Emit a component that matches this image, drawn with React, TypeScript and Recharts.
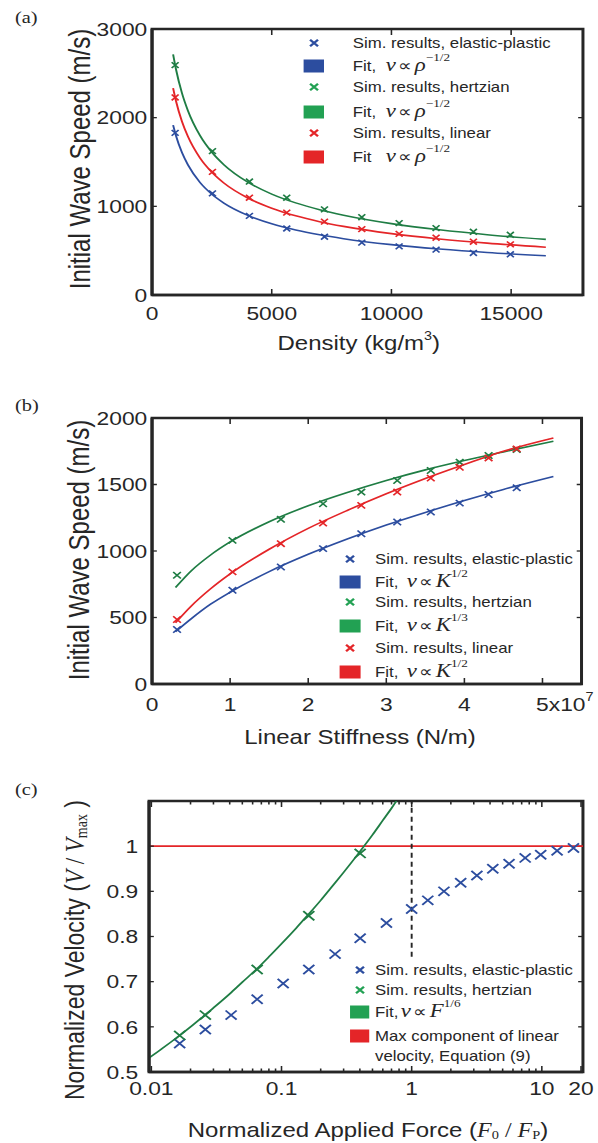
import React from 'react';
import { ComposedChart, Line, Scatter, XAxis, YAxis, ReferenceLine, Customized } from 'recharts';

// ---------- Panel (a) data ----------
const densitySim = [965, 2524, 4068, 5627, 7203, 8762, 10322, 11865, 13424, 14968];
const speedSimElasticA = [1828, 1146, 892, 750, 657, 590, 549, 511, 474, 459];
const speedSimHertzA = [2593, 1623, 1280, 1097, 966, 877, 810, 754, 713, 679];
const speedSimLinearA = [2228, 1388, 1097, 929, 828, 743, 690, 646, 601, 571];
const densityFit = [880, 1000, 1250, 1500, 2000, 2500, 3000, 4000, 5000, 6000, 7000, 8000, 10000, 12000, 14000, 16450];
const speedFitElasticA = [1915, 1796, 1606, 1467, 1270, 1136, 1037, 898, 803, 733, 679, 635, 568, 519, 480, 443];
const speedFitHertzA = [2714, 2546, 2277, 2079, 1800, 1610, 1470, 1273, 1138, 1039, 962, 900, 805, 735, 680, 627];
const speedFitLinearA = [2333, 2188, 1957, 1787, 1547, 1384, 1263, 1094, 979, 893, 827, 774, 692, 632, 585, 539];
const densityDomain = [0, 18000];
const speedDomainA = [0, 3000];
const densityTicks = [0, 5000, 10000, 15000];
const speedTicksA = [0, 1000, 2000, 3000];

// ---------- Panel (b) data (stiffness in 10^7 N/m) ----------
const stiffSim = [0.32, 1.03, 1.65, 2.19, 2.68, 3.14, 3.57, 3.94, 4.31, 4.67];
const speedSimElasticB = [410, 705, 880, 1018, 1130, 1218, 1293, 1360, 1425, 1475];
const speedSimHertzB = [818, 1080, 1238, 1355, 1443, 1530, 1605, 1668, 1718, 1763];
const speedSimLinearB = [485, 843, 1055, 1210, 1343, 1443, 1548, 1630, 1700, 1768];
const stiffFit = [0.3, 0.5, 0.75, 1.0, 1.5, 2.0, 2.5, 3.0, 3.5, 4.0, 4.5, 5.14];
const speedFitElasticB = [393, 490, 600, 690, 845, 975, 1090, 1195, 1290, 1380, 1463, 1560];
const speedFitHertzB = [725, 850, 970, 1068, 1220, 1340, 1440, 1530, 1610, 1680, 1745, 1825];
const speedFitLinearB = [460, 585, 716, 828, 1013, 1170, 1305, 1430, 1545, 1650, 1750, 1850];
const stiffDomain = [0, 5.5];
const speedDomainB = [0, 2000];
const stiffTicks = [0, 1, 2, 3, 4, 5];
const speedTicksB = [0, 500, 1000, 1500, 2000];

// ---------- Panel (c) data ----------
const forceSimElastic = [0.0165, 0.026, 0.041, 0.065, 0.103, 0.162, 0.258, 0.402, 0.64, 1.0, 1.33, 1.77, 2.38, 3.17, 4.2, 5.6, 7.45, 9.8, 13.1, 17.5];
const velSimElastic = [0.563, 0.594, 0.626, 0.661, 0.696, 0.727, 0.761, 0.796, 0.83, 0.861, 0.88, 0.9, 0.919, 0.935, 0.95, 0.961, 0.974, 0.981, 0.99, 0.996];
const forceSimHertz = [0.0165, 0.026, 0.065, 0.162, 0.402];
const velSimHertz = [0.581, 0.626, 0.727, 0.846, 0.984];
const forceFit = [0.0096, 0.012, 0.016, 0.02, 0.025, 0.03, 0.04, 0.05, 0.065, 0.08, 0.1, 0.13, 0.16, 0.2, 0.25, 0.3, 0.4, 0.5, 0.6, 0.7, 0.8];
const velFit = [0.531, 0.551, 0.578, 0.6, 0.623, 0.642, 0.673, 0.699, 0.729, 0.755, 0.784, 0.819, 0.848, 0.88, 0.914, 0.942, 0.988, 1.025, 1.057, 1.084, 1.109];
const maxLinearVelocity = 1;
const forceThreshold = 1;
const thresholdSpan = [0.755, 1.1];
const forceDomain = [0.0096, 20.7];
const velDomain = [0.5, 1.1];
const forceTicks = [0.01, 0.02, 0.03, 0.04, 0.05, 0.06, 0.07, 0.08, 0.09, 0.1, 0.2, 0.3, 0.4, 0.5, 0.6, 0.7, 0.8, 0.9, 1, 2, 3, 4, 5, 6, 7, 8, 9, 10, 20];
const forceTickLabels = ['0.01', '0.1', '1', '10', '20'];
const velTicks = [0.5, 0.6, 0.7, 0.8, 0.9, 1];

// ---------- styles / layout ----------
const SANS = '"Liberation Sans", Arial, Helvetica, sans-serif';
const SERIF = '"Liberation Serif", "Times New Roman", serif';
const INK = '#262626';
const BLUE = '#2c4d9f';
const GREEN_LINE = '#1f7d44';
const GREEN = '#22a153';
const RED = '#e42528';
const W = 498;
const YW = 60;
const XH = 40;
const FRAME_W = 2.5;
const AXLINE = { stroke: INK, strokeWidth: FRAME_W };

const PLOT_A = { left: 126.7, top: 29, width: 359.1, height: 266, H: 370, y0: 0 };
const PLOT_B = { left: 126.7, top: 48, width: 357.9, height: 266, H: 385, y0: 370 };
const PLOT_C = { left: 124.2, top: 46, width: 361.6, height: 271, H: 388, y0: 755 };
const marginOf = (p: any) => ({ top: p.top, left: p.left - YW, right: W - p.left - p.width, bottom: p.H - p.top - p.height - XH });

const pts = (xs: number[], ys: number[]) => xs.map((x, i) => ({ x, y: ys[i] }));

const xPath = (cx: number, cy: number, s: number) =>
  `M${cx - s},${cy - s}L${cx + s},${cy + s}M${cx - s},${cy + s}L${cx + s},${cy - s}`;

const xShape = (color: string, s: number, w: number) => (p: any) => {
  const { cx, cy } = p;
  if (cx == null || cy == null) return <g />;
  return <path d={xPath(cx, cy, s)} stroke={color} strokeWidth={w} fill="none" />;
};

const bottomTick = (label: (v: number) => string | null, off: number, len: (v: number) => number) => (p: any) => {
  const v = p.payload.value;
  const lab = label(v);
  return (
    <g>
      <line x1={p.x} x2={p.x} y1={p.y} y2={p.y - len(v)} stroke={INK} strokeWidth={1.3} />
      {lab != null && (
        <text x={p.x} y={p.y + off} textAnchor="middle" dominantBaseline="central" fontFamily={SANS} fontSize={19} fill={INK}>
          {lab}
        </text>
      )}
    </g>
  );
};
const leftTick = (label: (v: number) => string, gap: number) => (p: any) => (
  <g>
    <line x1={p.x} x2={p.x + 4} y1={p.y} y2={p.y} stroke={INK} strokeWidth={1.3} />
    <text x={p.x - gap} y={p.y} textAnchor="end" dominantBaseline="central" fontFamily={SANS} fontSize={19} fill={INK}>
      {label(p.payload.value)}
    </text>
  </g>
);

const axisCommon = {
  type: 'number' as const,
  allowDataOverflow: true,
  interval: 0 as const,
  tickSize: 0,
  tickMargin: 0,
  tickLine: false,
  axisLine: AXLINE,
};

// inward ticks on the top and right sides of the box
function boxTicks(xd: number[], yd: number[], xt: number[], yt: number[], topLen: (v: number) => number, rightStep: (x: number) => number) {
  const out: any[] = [];
  xt.forEach((v, i) =>
    out.push(
      <ReferenceLine key={`tt${i}`} xAxisId="b" yAxisId="l" segment={[{ x: v, y: yd[1] }, { x: v, y: yd[1] - topLen(v) }]} stroke={INK} strokeWidth={1.3} />
    )
  );
  yt.forEach((v, i) =>
    out.push(
      <ReferenceLine key={`rt${i}`} xAxisId="b" yAxisId="l" segment={[{ x: xd[1], y: v }, { x: rightStep(xd[1]), y: v }]} stroke={INK} strokeWidth={1.3} />
    )
  );
  return out;
}

function Frame({ p }: any) {
  return <rect x={p.left} y={p.top} width={p.width} height={p.height} fill="none" stroke={INK} strokeWidth={FRAME_W} />;
}

function SimRow({ x, y, c, s, textX, text }: any) {
  return (
    <g>
      <path d={xPath(x, y, s)} stroke={c} strokeWidth={2} fill="none" />
      <text x={textX} y={y + 5} fontFamily={SANS} fontSize={14} fill={INK}>{text}</text>
    </g>
  );
}

function FitRow({ rx, rw, y, c, textX, lead, leadGap, sym, sup }: any) {
  return (
    <g>
      <rect x={rx} y={y - 6.5} width={rw} height={13} fill={c} />
      <text x={textX} y={y + 5} fill={INK}>
        <tspan fontFamily={SANS} fontSize={14}>{lead}</tspan>
        <tspan dx={leadGap} fontFamily={SERIF} fontStyle="italic" fontSize={19}>ν</tspan>
        <tspan dx={2} fontFamily={SERIF} fontSize={16}>∝</tspan>
        <tspan dx={2} fontFamily={SERIF} fontStyle="italic" fontSize={19}>{sym}</tspan>
        <tspan dy={-10} fontFamily={SERIF} fontSize={11}>{sup}</tspan>
      </text>
    </g>
  );
}

function PanelLabel({ t, y }: any) {
  return (
    <text x={12.5} y={y} dominantBaseline="central" fontFamily={SERIF} fontSize={17} fill={INK}>{t}</text>
  );
}

function YTitle({ x, y, size, children }: any) {
  return (
    <text transform={`translate(${x},${y}) rotate(-90)`} textAnchor="middle" dominantBaseline="central" fontFamily={SANS} fontSize={size} fill={INK}>
      {children}
    </text>
  );
}

// ---------- Panel (a) ----------
function DecorA() {
  const mx = 261.7, rx = 253, rw = 17, tx = 294;
  return (
    <g>
      <Frame p={PLOT_A} />
      <PanelLabel t="(a)" y={17} />
      <YTitle x={66.7} y={159} size={24}>Initial Wave Speed (m/s)</YTitle>
      <text x={299} y={343} textAnchor="middle" dominantBaseline="central" fontFamily={SANS} fontSize={20} fill={INK}>
        Density (kg/m<tspan dy={-8} fontSize={12}>3</tspan><tspan dy={8}>)</tspan>
      </text>
      <SimRow x={mx} y={43} c={BLUE} s={3.3} textX={tx} text="Sim. results, elastic-plastic" />
      <FitRow rx={rx} rw={rw} y={66} c={BLUE} textX={tx} lead="Fit," leadGap={8} sym="ρ" sup="−1/2" />
      <SimRow x={mx} y={87} c={GREEN} s={3.3} textX={tx} text="Sim. results, hertzian" />
      <FitRow rx={rx} rw={rw} y={112} c={GREEN} textX={tx} lead="Fit," leadGap={8} sym="ρ" sup="−1/2" />
      <SimRow x={mx} y={133} c={RED} s={3.3} textX={tx} text="Sim. results, linear" />
      <FitRow rx={rx} rw={rw} y={157} c={RED} textX={tx} lead="Fit" leadGap={12} sym="ρ" sup="−1/2" />
    </g>
  );
}

function PanelA() {
  const len = () => 6;
  const topLen = () => ((speedDomainA[1] - speedDomainA[0]) * 6) / PLOT_A.height;
  const rightStep = (x: number) => x - ((densityDomain[1] - densityDomain[0]) * 4) / PLOT_A.width;
  return (
    <ComposedChart width={W} height={PLOT_A.H} margin={marginOf(PLOT_A)}>
      <XAxis {...axisCommon} xAxisId="b" dataKey="x" domain={densityDomain} ticks={densityTicks} height={XH}
        tick={bottomTick((v) => String(v), 18, len)} />
      <YAxis {...axisCommon} yAxisId="l" dataKey="y" domain={speedDomainA} ticks={speedTicksA} width={YW}
        tick={leftTick((v) => String(v), 4)} />
      {boxTicks(densityDomain, speedDomainA, densityTicks, speedTicksA, topLen, rightStep)}
      <Line xAxisId="b" yAxisId="l" data={pts(densityFit, speedFitElasticA)} dataKey="y" type="monotone" stroke={BLUE} strokeWidth={1.6} dot={false} isAnimationActive={false} />
      <Line xAxisId="b" yAxisId="l" data={pts(densityFit, speedFitHertzA)} dataKey="y" type="monotone" stroke={GREEN_LINE} strokeWidth={1.6} dot={false} isAnimationActive={false} />
      <Line xAxisId="b" yAxisId="l" data={pts(densityFit, speedFitLinearA)} dataKey="y" type="monotone" stroke={RED} strokeWidth={1.6} dot={false} isAnimationActive={false} />
      <Scatter xAxisId="b" yAxisId="l" data={pts(densitySim, speedSimElasticA)} dataKey="y" shape={xShape(BLUE, 2.9, 1.5)} isAnimationActive={false} />
      <Scatter xAxisId="b" yAxisId="l" data={pts(densitySim, speedSimHertzA)} dataKey="y" shape={xShape(GREEN_LINE, 2.9, 1.5)} isAnimationActive={false} />
      <Scatter xAxisId="b" yAxisId="l" data={pts(densitySim, speedSimLinearA)} dataKey="y" shape={xShape(RED, 2.9, 1.5)} isAnimationActive={false} />
      <Customized component={DecorA} />
    </ComposedChart>
  );
}

// ---------- Panel (b) ----------
function StiffTick(p: any) {
  const v = p.payload.value;
  return (
    <g>
      <line x1={p.x} x2={p.x} y1={p.y} y2={p.y - 6} stroke={INK} strokeWidth={1.3} />
      {v === 5 ? (
        <text x={p.x - 5.3} y={p.y + 20} dominantBaseline="central" fontFamily={SANS} fontSize={19} fill={INK}>
          5x10<tspan dy={-8} fontSize={12}>7</tspan>
        </text>
      ) : (
        <text x={p.x} y={p.y + 20} textAnchor="middle" dominantBaseline="central" fontFamily={SANS} fontSize={19} fill={INK}>
          {String(v)}
        </text>
      )}
    </g>
  );
}

function DecorB() {
  const mx = 291.7, rx = 283, rw = 17.5, tx = 312.5;
  return (
    <g>
      <Frame p={PLOT_B} />
      <PanelLabel t="(b)" y={35} />
      <YTitle x={65.8} y={180} size={24}>Initial Wave Speed (m/s)</YTitle>
      <text x={300} y={367} textAnchor="middle" dominantBaseline="central" fontFamily={SANS} fontSize={20} fill={INK}>
        Linear Stiffness (N/m)
      </text>
      <SimRow x={mx} y={189} c={BLUE} s={3.3} textX={tx} text="Sim. results, elastic-plastic" />
      <FitRow rx={rx} rw={rw} y={212} c={BLUE} textX={tx} lead="Fit," leadGap={7} sym="K" sup="1/2" />
      <SimRow x={mx} y={232} c={GREEN} s={3.3} textX={tx} text="Sim. results, hertzian" />
      <FitRow rx={rx} rw={rw} y={256} c={GREEN} textX={tx} lead="Fit," leadGap={7} sym="K" sup="1/3" />
      <SimRow x={mx} y={278} c={RED} s={3.3} textX={tx} text="Sim. results, linear" />
      <FitRow rx={rx} rw={rw} y={302} c={RED} textX={tx} lead="Fit," leadGap={7} sym="K" sup="1/2" />
    </g>
  );
}

function PanelB() {
  const topLen = () => ((speedDomainB[1] - speedDomainB[0]) * 6) / PLOT_B.height;
  const rightStep = (x: number) => x - ((stiffDomain[1] - stiffDomain[0]) * 4) / PLOT_B.width;
  return (
    <ComposedChart width={W} height={PLOT_B.H} margin={marginOf(PLOT_B)}>
      <XAxis {...axisCommon} xAxisId="b" dataKey="x" domain={stiffDomain} ticks={stiffTicks} height={XH} tick={StiffTick} />
      <YAxis {...axisCommon} yAxisId="l" dataKey="y" domain={speedDomainB} ticks={speedTicksB} width={YW}
        tick={leftTick((v) => String(v), 4)} />
      {boxTicks(stiffDomain, speedDomainB, stiffTicks, speedTicksB, topLen, rightStep)}
      <Line xAxisId="b" yAxisId="l" data={pts(stiffFit, speedFitElasticB)} dataKey="y" type="monotone" stroke={BLUE} strokeWidth={1.6} dot={false} isAnimationActive={false} />
      <Line xAxisId="b" yAxisId="l" data={pts(stiffFit, speedFitHertzB)} dataKey="y" type="monotone" stroke={GREEN_LINE} strokeWidth={1.6} dot={false} isAnimationActive={false} />
      <Line xAxisId="b" yAxisId="l" data={pts(stiffFit, speedFitLinearB)} dataKey="y" type="monotone" stroke={RED} strokeWidth={1.6} dot={false} isAnimationActive={false} />
      <Scatter xAxisId="b" yAxisId="l" data={pts(stiffSim, speedSimElasticB)} dataKey="y" shape={xShape(BLUE, 3.2, 1.5)} isAnimationActive={false} />
      <Scatter xAxisId="b" yAxisId="l" data={pts(stiffSim, speedSimHertzB)} dataKey="y" shape={xShape(GREEN_LINE, 3.2, 1.5)} isAnimationActive={false} />
      <Scatter xAxisId="b" yAxisId="l" data={pts(stiffSim, speedSimLinearB)} dataKey="y" shape={xShape(RED, 3.2, 1.5)} isAnimationActive={false} />
      <Customized component={DecorB} />
    </ComposedChart>
  );
}

// ---------- Panel (c) ----------
const isMajor = (v: number) => forceTickLabels.some((s) => Math.abs(Number(s) - v) < 1e-9);
const forceLabel = (v: number) => {
  const s = forceTickLabels.find((t) => Math.abs(Number(t) - v) < 1e-9);
  return s == null ? null : s;
};
const forceLen = (v: number) => (isMajor(v) ? 6 : 3.5);

function DecorC() {
  const mx = 300, rx = 291.7, rw = 16, tx = 312.5;
  return (
    <g>
      <Frame p={PLOT_C} />
      <PanelLabel t="(c)" y={34} />
      <YTitle x={61.7} y={195} size={23}>
        Normalized Velocity (
        <tspan fontFamily={SERIF} fontStyle="italic">V</tspan>
        <tspan fontFamily={SERIF}> / </tspan>
        <tspan fontFamily={SERIF} fontStyle="italic">V</tspan>
        <tspan fontFamily={SERIF} fontSize={14} dy={5}>max</tspan>
        <tspan dy={-5}> )</tspan>
      </YTitle>
      <text x={306.7} y={375} textAnchor="middle" dominantBaseline="central" fontFamily={SANS} fontSize={20} fill={INK}>
        Normalized Applied Force (
        <tspan fontFamily={SERIF} fontStyle="italic">F</tspan>
        <tspan fontFamily={SERIF} fontSize={12} dy={4}>0</tspan>
        <tspan fontFamily={SERIF} dy={-4}> / </tspan>
        <tspan fontFamily={SERIF} fontStyle="italic">F</tspan>
        <tspan fontFamily={SERIF} fontSize={12} dy={4}>P</tspan>
        <tspan dy={-4}>)</tspan>
      </text>
      <SimRow x={mx} y={215} c={BLUE} s={3.3} textX={tx} text="Sim. results, elastic-plastic" />
      <SimRow x={mx} y={235} c={GREEN} s={3.3} textX={tx} text="Sim. results, hertzian" />
      <FitRow rx={rx} rw={rw} y={257} c={GREEN} textX={tx} lead="Fit," leadGap={2} sym="F" sup="1/6" />
      <rect x={rx} y={281 - 6.5} width={rw} height={13} fill={RED} />
      <text x={tx} y={281 + 5} fontFamily={SANS} fontSize={14} fill={INK}>Max component of linear</text>
      <text x={tx} y={301 + 5} fontFamily={SANS} fontSize={14} fill={INK}>velocity, Equation (9)</text>
    </g>
  );
}

function PanelC() {
  const decades = Math.log10(forceDomain[1] / forceDomain[0]);
  const topLen = (v: number) => ((velDomain[1] - velDomain[0]) * forceLen(v)) / PLOT_C.height;
  const rightStep = (x: number) => x / Math.pow(10, (decades * 4) / PLOT_C.width);
  return (
    <ComposedChart width={W} height={PLOT_C.H} margin={marginOf(PLOT_C)}>
      <XAxis {...axisCommon} xAxisId="b" dataKey="x" scale="log" domain={forceDomain} ticks={forceTicks} height={XH}
        tick={bottomTick(forceLabel, 16, forceLen)} />
      <YAxis {...axisCommon} yAxisId="l" dataKey="y" domain={velDomain} ticks={velTicks} width={YW}
        tick={leftTick((v) => (v === 1 ? '1' : v.toFixed(1)), 9)} />
      {boxTicks(forceDomain, velDomain, forceTicks, velTicks, topLen, rightStep)}
      <ReferenceLine xAxisId="b" yAxisId="l" y={maxLinearVelocity} stroke={RED} strokeWidth={1.6} />
      <ReferenceLine xAxisId="b" yAxisId="l" segment={[{ x: forceThreshold, y: thresholdSpan[0] }, { x: forceThreshold, y: thresholdSpan[1] }]} stroke={INK} strokeWidth={1.6} strokeDasharray="5 4" />
      <Line xAxisId="b" yAxisId="l" data={pts(forceFit, velFit)} dataKey="y" type="monotone" stroke={GREEN_LINE} strokeWidth={1.6} dot={false} isAnimationActive={false} />
      <Scatter xAxisId="b" yAxisId="l" data={pts(forceSimElastic, velSimElastic)} dataKey="y" shape={xShape(BLUE, 4.6, 1.7)} isAnimationActive={false} />
      <Scatter xAxisId="b" yAxisId="l" data={pts(forceSimHertz, velSimHertz)} dataKey="y" shape={xShape(GREEN_LINE, 4.6, 1.7)} isAnimationActive={false} />
      <Customized component={DecorC} />
    </ComposedChart>
  );
}

export default function App() {
  return (
    <div style={{ position: 'absolute', left: 0, top: 0, width: 598, height: 1143, overflow: 'hidden', background: '#fff' }}>
      <div style={{ position: 'absolute', left: 0, top: 0, width: W, height: 1143, transform: 'scaleX(1.2)', transformOrigin: '0 0' }}>
        <div style={{ position: 'absolute', left: 0, top: PLOT_A.y0 }}><PanelA /></div>
        <div style={{ position: 'absolute', left: 0, top: PLOT_B.y0 }}><PanelB /></div>
        <div style={{ position: 'absolute', left: 0, top: PLOT_C.y0 }}><PanelC /></div>
      </div>
    </div>
  );
}
